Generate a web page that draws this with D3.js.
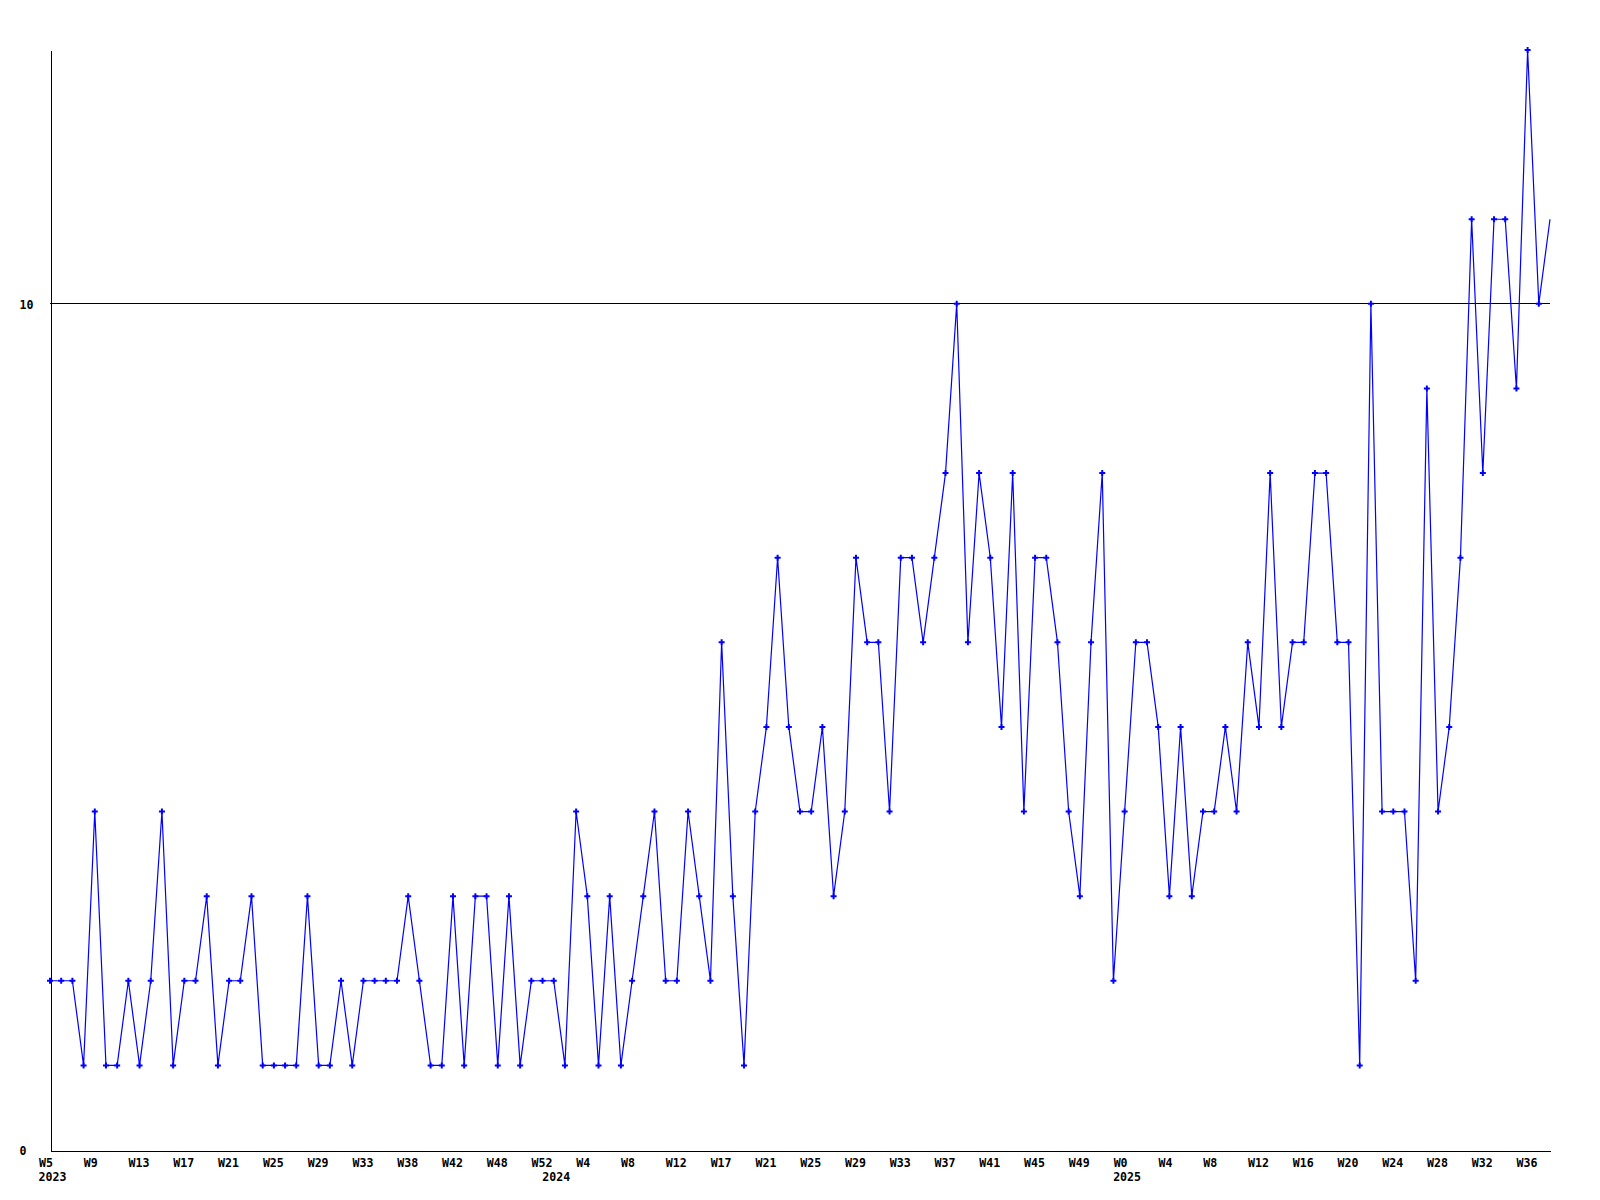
<!DOCTYPE html>
<html>
<head>
<meta charset="utf-8">
<script src="https://cdn.jsdelivr.net/npm/d3@7"></script>
<style>
  html, body { margin: 0; padding: 0; background: #ffffff; }
  svg { display: block; }
  text { font-family: "DejaVu Sans Mono", "Liberation Mono", monospace; font-weight: bold; font-size: 11.6px; fill: #000; }
</style>
</head>
<body>
<svg id="chart" width="1600" height="1200"></svg>
<script>
// ---- data ----
const values = [
  2,2,2,1,4,1,1,2,1,2,
  4,1,2,2,3,1,2,2,3,1,
  1,1,1,3,1,1,2,1,2,2,
  2,2,3,2,1,1,3,1,3,3,
  1,3,1,2,2,2,1,4,3,1,
  3,1,2,3,4,2,2,4,3,2,
  6,3,1,4,5,7,5,4,4,5,
  3,4,7,6,6,4,7,7,6,7,
  8,10,6,8,7,5,8,4,7,7,
  6,4,3,6,8,2,4,6,6,5,
  3,5,3,4,4,5,4,6,5,8,
  5,6,6,8,8,6,6,1,10,4,
  4,4,2,9,4,5,7,11,8,11,
  11,9,13,10,11
];
const tickIndex  = [0,4,8,12,16,20,24,28,32,36,40,44,48,52,56,60,64,68,72,76,80,84,88,92,96,100,104,108,112,116,120,124,128,132];
const tickLabels = ["W5","W9","W13","W17","W21","W25","W29","W33","W38","W42","W48","W52","W4","W8","W12","W17","W21","W25","W29","W33","W37","W41","W45","W49","W0","W4","W8","W12","W16","W20","W24","W28","W32","W36"];
const yearIndex  = [0,45,96];
const yearLabels = ["2023","2024","2025"];
const yTicks = [0,10];
const yMax = 13;

(function () {
  // ---- layout ----
  const mLeft = 50, mRight = 1550, mTop = 50, mBottom = 1150;
  const svg = d3.select("#chart");

  const x = d3.scaleLinear().domain([0, values.length - 1]).range([mLeft, mRight]);
  const y = d3.scaleLinear().domain([0, yMax]).range([mBottom, mTop]);

  // gridline at 10
  svg.append("g")
    .selectAll("line")
    .data(yTicks.filter(d => d > 0))
    .join("line")
    .attr("x1", mLeft).attr("x2", mRight)
    .attr("y1", d => Math.floor(y(d)) + 0.5).attr("y2", d => Math.floor(y(d)) + 0.5)
    .attr("stroke", "#000").attr("stroke-width", 1)
    .attr("shape-rendering", "crispEdges");

  // x axis
  const xAxis = svg.append("g")
    .attr("transform", `translate(0,${mBottom + 0.5})`)
    .call(d3.axisBottom(x).tickValues(tickIndex).tickFormat((d, i) => tickLabels[i]).tickSize(0).tickSizeOuter(0));
  xAxis.attr("font-family", null).attr("font-size", null);
  xAxis.select(".domain").attr("stroke", "#000").attr("shape-rendering", "crispEdges");
  xAxis.selectAll("text")
    .attr("text-anchor", "start").attr("x", -11.5).attr("y", 16).attr("dy", 0);

  // year labels
  svg.append("g")
    .selectAll("text")
    .data(yearIndex)
    .join("text")
    .attr("x", d => x(d) - 11.5)
    .attr("y", mBottom + 31)
    .text((d, i) => yearLabels[i]);

  // y axis
  const yAxis = svg.append("g")
    .attr("transform", `translate(${mLeft + 0.5},0)`)
    .call(d3.axisLeft(y).tickValues(yTicks).tickFormat(d3.format("d")).tickSize(0).tickSizeOuter(0));
  yAxis.attr("font-family", null).attr("font-size", null);
  yAxis.select(".domain").attr("stroke", "#000").attr("shape-rendering", "crispEdges");
  yAxis.selectAll("text")
    .attr("text-anchor", "start").attr("x", -31).attr("dy", "0.36em");

  // line
  const line = d3.line().x((d, i) => x(i)).y(d => y(d));
  svg.append("path")
    .datum(values)
    .attr("d", line)
    .attr("fill", "none")
    .attr("stroke", "#0000ff")
    .attr("stroke-width", 1.2);

  // markers (last point not marked in original)
  svg.append("g")
    .selectAll("path")
    .data(values.slice(0, values.length - 1))
    .join("path")
    .attr("transform", (d, i) => `translate(${x(i)},${y(d)})`)
    .attr("d", d3.symbol(d3.symbolCross, 20)())
    .attr("fill", "#0000ff")
    .attr("stroke", "none");
})();
</script>
</body>
</html>
